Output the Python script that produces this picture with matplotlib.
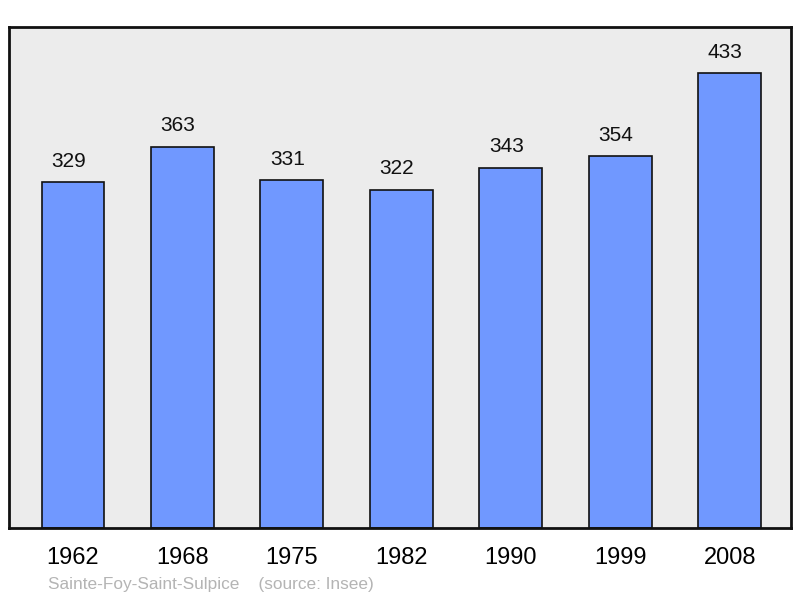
import matplotlib
matplotlib.use("Agg")
import matplotlib.pyplot as plt

plt.rcParams['font.family'] = ['Liberation Sans', 'DejaVu Sans']

years = ["1962", "1968", "1975", "1982", "1990", "1999", "2008"]
population = [329, 363, 331, 322, 343, 354, 433]

W, H = 800, 598
fig = plt.figure(figsize=(W / 100, H / 100), dpi=100)
ax = fig.add_axes([9 / W, (H - 528) / H, 782 / W, 501 / H])
ax.set_facecolor("#ececec")

x = list(range(len(years)))
bars = ax.bar(x, population, width=0.575, color="#7098ff",
              edgecolor="#111111", linewidth=1.2, zorder=2)

for xi, v in zip(x, population):
    ax.text(xi - 0.04, v + 11, str(v), ha="center", va="bottom",
            fontsize=15, color="#111111")

ax.set_xlim(-0.585, 6.56)
ax.set_ylim(0, 477)
ax.set_xticks(x)
ax.set_xticklabels(years, fontsize=17)
ax.tick_params(axis="x", length=0, pad=14)
ax.set_yticks([])
for s in ax.spines.values():
    s.set_linewidth(2)
    s.set_color("#111111")
    s.set_zorder(3)

fig.text(48 / W, (H - 585) / H, "Sainte-Foy-Saint-Sulpice    (source: Insee)",
         fontsize=12.4, color="#b4b4b4", ha="left", va="center")

fig.savefig("out.png", dpi=100)
